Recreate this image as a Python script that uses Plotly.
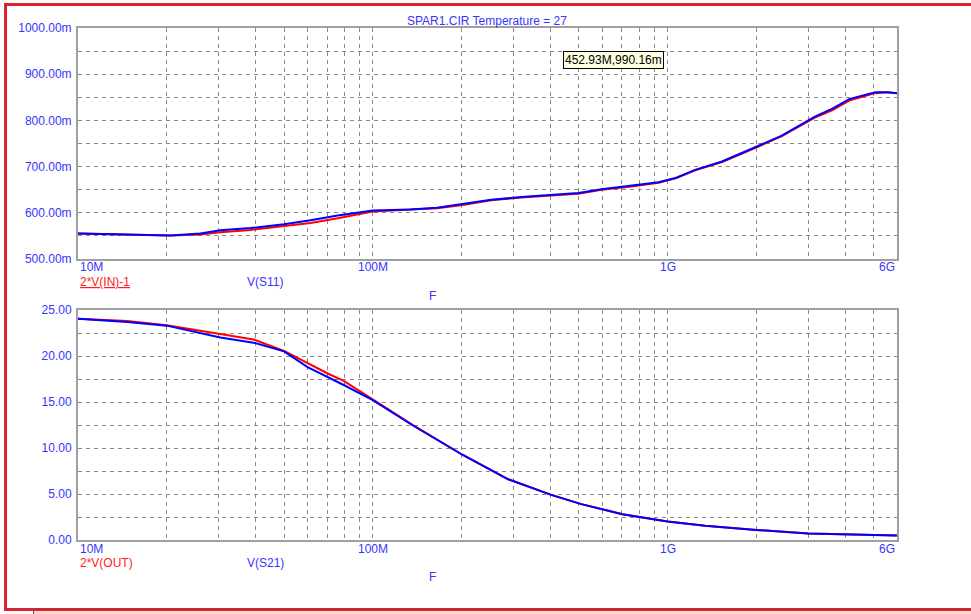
import math
import plotly.graph_objects as go

# ---------------- data ----------------
f_top_mhz = [10, 12.8, 15.6, 20.6, 26, 30.4, 38.5, 50, 61.5, 76, 100, 134, 165, 202, 252, 319, 403, 498,
             597, 754, 932, 1070, 1240, 1530, 1980, 2440, 3160, 3610, 4130, 4570, 5060, 5560, 6000]
s11_red = [0.555, 0.5535, 0.552, 0.551, 0.553, 0.558, 0.563, 0.571, 0.578, 0.588, 0.603, 0.607, 0.610,
           0.617, 0.627, 0.633, 0.637, 0.641, 0.650, 0.657, 0.665, 0.675, 0.692, 0.710, 0.740, 0.766,
           0.806, 0.822, 0.843, 0.851, 0.859, 0.861, 0.859]
s11_blue = [0.555, 0.5535, 0.552, 0.551, 0.555, 0.562, 0.567, 0.575, 0.584, 0.594, 0.605, 0.607, 0.611,
            0.619, 0.628, 0.634, 0.638, 0.643, 0.651, 0.658, 0.666, 0.676, 0.693, 0.711, 0.741, 0.767,
            0.808, 0.825, 0.846, 0.854, 0.861, 0.861, 0.859]

f_bot_mhz = [10, 14.7, 20, 30.4, 39.4, 50, 60.1, 70.3, 79.7, 100, 136, 202, 288, 403, 510, 703, 896,
             1000, 1340, 2000, 3000, 5100, 6000]
s21_red = [24.05, 23.8, 23.35, 22.4, 21.8, 20.55, 19.2, 18.1, 17.3, 15.3, 12.55, 9.24, 6.6, 4.9, 3.9,
           2.8, 2.25, 2.0, 1.56, 1.09, 0.72, 0.51, 0.5]
s21_blue = [24.05, 23.7, 23.3, 22.0, 21.45, 20.5, 18.8, 17.75, 16.85, 15.2, 12.5, 9.24, 6.6, 4.9, 3.9,
            2.8, 2.25, 2.0, 1.56, 1.09, 0.72, 0.51, 0.5]

top_yticks = [0.50, 0.55, 0.60, 0.65, 0.70, 0.75, 0.80, 0.85, 0.90, 0.95, 1.00]
bot_yticks = [0, 2.5, 5, 7.5, 10, 12.5, 15, 17.5, 20, 22.5, 25]
x_tick_labels = ["10M", "100M", "1G", "6G"]
x_tick_values = [1e7, 1e8, 1e9, 6e9]

title_text = "SPAR1.CIR Temperature = 27"
cursor_text = "452.93M,990.16m"
top_names = ["2*V(IN)-1", "V(S11)"]
bot_names = ["2*V(OUT)", "V(S21)"]
x_name = "F"

# ---------------- layout helpers ----------------
W, H = 971, 614
BLUE_TXT = "#3535FF"
FONT = "Liberation Sans, Arial, sans-serif"


def px(x):
    return x / W


def py(y):
    return 1 - y / H


top_f = [v * 1e6 for v in f_top_mhz]
bot_f = [v * 1e6 for v in f_bot_mhz]

grid_x = []
for d in [1e7, 1e8, 1e9]:
    for k in range(1, 10):
        v = k * d
        if v <= 6e9:
            grid_x.append(v)

fig = go.Figure()
fig.add_trace(go.Scatter(x=top_f, y=s11_red, mode="lines", line=dict(color="#FF0000", width=2),
                         xaxis="x", yaxis="y", showlegend=False))
fig.add_trace(go.Scatter(x=top_f, y=s11_blue, mode="lines", line=dict(color="#0000FF", width=2),
                         xaxis="x", yaxis="y", showlegend=False))
fig.add_trace(go.Scatter(x=bot_f, y=s21_red, mode="lines", line=dict(color="#FF0000", width=2),
                         xaxis="x2", yaxis="y2", showlegend=False))
fig.add_trace(go.Scatter(x=bot_f, y=s21_blue, mode="lines", line=dict(color="#0000FF", width=2),
                         xaxis="x2", yaxis="y2", showlegend=False))

xrange_log = [math.log10(1e7), math.log10(6e9)]

xcommon = dict(type="log", range=xrange_log, tickvals=grid_x, showticklabels=False, ticks="",
               showgrid=True, gridcolor="#8a8a8a", gridwidth=1, griddash="4px,4px",
               showline=True, mirror=True, linecolor="#a0a0a0", linewidth=2, zeroline=False)

ycommon = dict(ticks="", showgrid=True, gridcolor="#8a8a8a", gridwidth=1, griddash="4px,4px",
               showline=True, mirror=True, linecolor="#a0a0a0", linewidth=2, zeroline=False,
               tickfont=dict(family=FONT, size=12, color=BLUE_TXT), ticklabelstandoff=2)

top_ytext = [("%.2fm" % (v * 1000)) if i % 2 == 0 else "" for i, v in enumerate(top_yticks)]
bot_ytext = [("%.2f" % v) if i % 2 == 0 else "" for i, v in enumerate(bot_yticks)]

fig.update_layout(
    width=W, height=H,
    margin=dict(l=0, r=0, t=0, b=0, pad=0, autoexpand=False),
    paper_bgcolor="white", plot_bgcolor="white",
    xaxis=dict(domain=[px(78), px(897)], anchor="y", **xcommon),
    yaxis=dict(domain=[py(259), py(28)], anchor="x", range=[0.5, 1.0], tickvals=top_yticks,
               ticktext=top_ytext, **ycommon),
    xaxis2=dict(domain=[px(78), px(897)], anchor="y2", **xcommon),
    yaxis2=dict(domain=[py(540), py(310)], anchor="x2", range=[0, 25], tickvals=bot_yticks,
                ticktext=bot_ytext, **ycommon),
)

ann = []


def txt(x, y, s, color=BLUE_TXT, xanchor="left", size=12, **kw):
    ann.append(dict(x=px(x), y=py(y), xref="paper", yref="paper", text=s, showarrow=False,
                    xanchor=xanchor, yanchor="middle", font=dict(family=FONT, size=size, color=color), **kw))


# x tick labels for both panels
for base in [267, 549]:
    for lab, val in zip(x_tick_labels, x_tick_values):
        xp = 78 + (math.log10(val) - 7) / (xrange_log[1] - 7) * (897 - 78)
        anchor = "left" if lab == x_tick_labels[0] else ("right" if lab == x_tick_labels[-1] else "center")
        txt(xp, base, lab, xanchor=anchor)

# trace names and axis names
txt(78, 282, "<u>" + top_names[0] + "</u>", color="#FF2020")
txt(245, 282, top_names[1])
txt(432, 296, x_name, xanchor="center")
txt(78, 563, bot_names[0], color="#FF2020")
txt(245, 563, bot_names[1])
txt(432, 577, x_name, xanchor="center")

# title
txt(487, 21, title_text, xanchor="center")

# cursor readout box
ann.append(dict(x=px(613), y=py(59.5), xref="paper", yref="paper", text=cursor_text, showarrow=False,
                xanchor="center", yanchor="middle", font=dict(family=FONT, size=12, color="black"),
                bgcolor="#FFFFE1", bordercolor="black", borderwidth=1, borderpad=1))

fig.update_layout(annotations=ann)

# window frame (red border)
shapes = [
    dict(type="line", xref="paper", yref="paper", x0=px(5.5), x1=px(5.5), y0=py(3), y1=py(611),
         line=dict(color="#D9232E", width=3)),
    dict(type="line", xref="paper", yref="paper", x0=px(4), x1=1.0, y0=py(4.5), y1=py(4.5),
         line=dict(color="#D9232E", width=3)),
    dict(type="line", xref="paper", yref="paper", x0=px(4), x1=1.0, y0=py(609.5), y1=py(609.5),
         line=dict(color="#D9232E", width=3)),
    dict(type="rect", xref="paper", yref="paper", x0=px(33), x1=1.0, y0=0, y1=py(611.2),
         fillcolor="#F6D8CC", line=dict(width=0)),
    dict(type="line", xref="paper", yref="paper", x0=px(33.5), x1=px(33.5), y0=py(611), y1=0,
         line=dict(color="#555555", width=1)),
]
fig.update_layout(shapes=shapes)

fig.write_html("out.html", config={"displayModeBar": False})

# remove default page margins so the figure sits exactly in the window
css = ("<style>html,body{margin:0;padding:0;width:971px;height:614px;overflow:hidden;}"
       "body>div{height:614px;overflow:hidden;}"
       ".plotly-graph-div{display:block;}</style>")
with open("out.html", "r", encoding="utf-8") as fh:
    html = fh.read()
html = html.replace("<head>", "<head>" + css, 1)
with open("out.html", "w", encoding="utf-8") as fh:
    fh.write(html)
